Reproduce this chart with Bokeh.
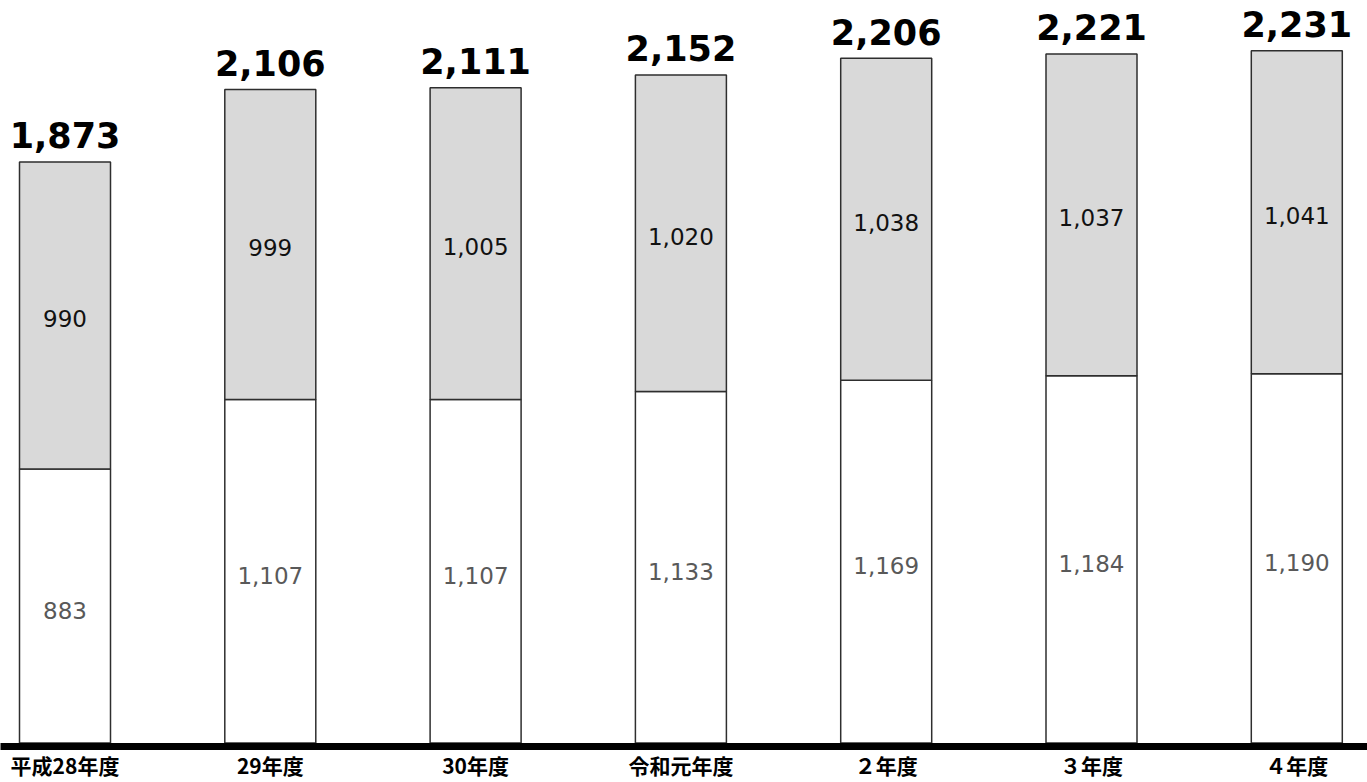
from bokeh.plotting import figure
from bokeh.models import ColumnDataSource, FixedTicker, Range1d
from bokeh.core.properties import value
from bokeh.embed import file_html
from bokeh.resources import INLINE

categories = ["平成28年度", "29年度", "30年度", "令和元年度", "２年度", "３年度", "４年度"]
lower = [883, 1107, 1107, 1133, 1169, 1184, 1190]
upper = [990, 999, 1005, 1020, 1038, 1037, 1041]
totals = [1873, 2106, 2111, 2152, 2206, 2221, 2231]

xs = list(range(len(categories)))
src = ColumnDataSource(dict(
    x=xs,
    lower=lower,
    upper=upper,
    top=[a + b for a, b in zip(lower, upper)],
    lower_mid=[a / 2 for a in lower],
    upper_mid=[a + b / 2 for a, b in zip(lower, upper)],
    lower_txt=[f"{v:,}" for v in lower],
    upper_txt=[f"{v:,}" for v in upper],
    total=totals,
    total_txt=[f"{v:,}" for v in totals],
))

W, H = 1367, 782
step = 205.3
left_px = 64.5
zero_px = 745
frame_h = 748.5
scale = 0.3113

p = figure(width=W, height=H, output_backend="svg", toolbar_location=None,
           x_range=Range1d(-left_px / step, (W - left_px) / step),
           y_range=Range1d(-(frame_h - zero_px) / scale, zero_px / scale),
           min_border_left=0, min_border_right=0, min_border_top=0,
           min_border_bottom=int(H - frame_h))
p.outline_line_color = None
p.grid.visible = False
p.yaxis.visible = False
p.background_fill_color = "white"

bw = 91 / step
p.vbar(x="x", bottom=0, top="lower", width=bw, source=src,
       fill_color="white", line_color="#2e2e2e", line_width=1.5)
p.vbar(x="x", bottom="lower", top="top", width=bw, source=src,
       fill_color="#d9d9d9", line_color="#2e2e2e", line_width=1.5)

font = value("DejaVu Sans")
p.text(x="x", y="lower_mid", text="lower_txt", source=src, text_align="center",
       text_baseline="middle", text_font=font, text_font_size="23px",
       text_color="#595959", y_offset=4)
p.text(x="x", y="upper_mid", text="upper_txt", source=src, text_align="center",
       text_baseline="middle", text_font=font, text_font_size="23px",
       text_color="#111111", y_offset=3)
p.text(x="x", y="total", text="total_txt", source=src, text_align="center",
       text_baseline="alphabetic", text_font=font, text_font_size="35px",
       text_font_style="bold", text_color="black", y_offset=-27)

ax = p.xaxis[0]
ax.ticker = FixedTicker(ticks=xs)
ax.major_label_overrides = {i: c for i, c in enumerate(categories)}
ax.axis_line_width = 7
ax.axis_line_color = "black"
ax.major_tick_line_color = None
ax.minor_tick_line_color = None
ax.major_label_text_font = "Noto Sans CJK JP"
ax.major_label_text_font_style = "bold"
ax.major_label_text_font_size = "21px"
ax.major_label_text_color = "black"
ax.major_label_standoff = -3

open("out.html", "w").write(file_html(p, INLINE))
